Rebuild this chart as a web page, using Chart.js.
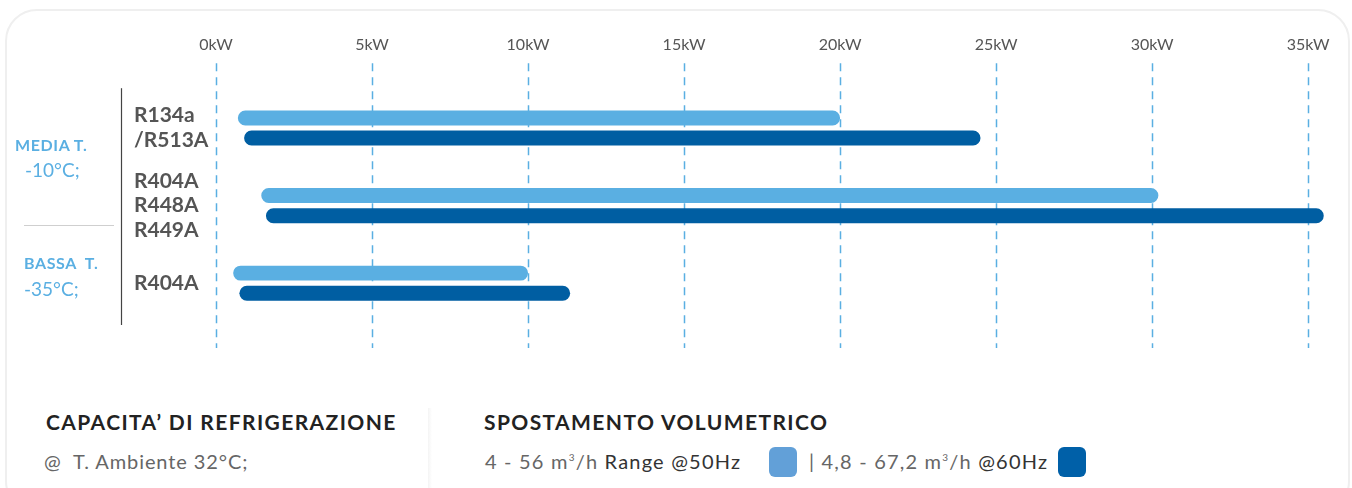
<!DOCTYPE html>
<html>
<head>
<meta charset="utf-8">
<script src="https://cdn.jsdelivr.net/npm/chart.js@4/dist/chart.umd.min.js"></script>
<style>
  html, body { margin: 0; padding: 0; background: #fff; }
  body { width: 1352px; height: 488px; position: relative; overflow: hidden; font-family: Lato, "Noto Sans", sans-serif; }
  .card { position: absolute; left: 5px; top: 9px; width: 1341px; height: 500px; border: 2px solid #efefef; border-radius: 32px; }
  #wrap { position: absolute; left: 0; top: 0; width: 1352px; height: 360px; }
  .grp { position: absolute; color: #5aafe2; white-space: nowrap; }
  .grp b { font-size: 16px; font-weight: 700; letter-spacing: 0.6px; }
  .grp span { font-size: 19px; }
  .sep { position: absolute; left: 24px; top: 225px; width: 90px; height: 1px; background: #cfcfcf; }
  .ttl { position: absolute; font-weight: 700; font-size: 21px; letter-spacing: 1.4px; color: #222; white-space: nowrap; }
  .sub { position: absolute; font-size: 20px; letter-spacing: 1.2px; color: #666; white-space: nowrap; }
  .sub em { font-style: normal; color: #333; }
  .sub sup { font-size: 10px; }
  .sq { position: absolute; top: 447px; width: 28px; height: 30px; border-radius: 6px; }
  .shadow { position: absolute; left: 428px; top: 408px; width: 4px; height: 80px; background: linear-gradient(to right, #f4f4f4, #fff); }
</style>
</head>
<body>
<div class="card"></div>
<div class="shadow"></div>
<div id="wrap"><canvas id="myChart"></canvas></div>

<div class="grp" style="left:15px; top:135px;"><b>MEDIA T.</b></div>
<div class="grp" style="left:25px; top:158px;"><span>-10°C;</span></div>
<div class="sep"></div>
<div class="grp" style="left:24px; top:253px;"><b>BASSA&nbsp; T.</b></div>
<div class="grp" style="left:24px; top:277px;"><span>-35°C;</span></div>

<div class="ttl" style="left:46px; top:409px;">CAPACITA’ DI REFRIGERAZIONE</div>
<div class="sub" style="left:44px; top:449px; letter-spacing:0.9px;">@&nbsp; T. Ambiente 32°C;</div>
<div class="ttl" style="left:484px; top:409px;">SPOSTAMENTO VOLUMETRICO</div>
<div class="sub" style="left:485px; top:449px;">4 - 56 m<sup>3</sup>/h <em>Range @50Hz</em></div>
<div class="sq" id="sq50" style="left:769px;"></div>
<div class="sub" style="left:809px; top:449px;">| 4,8 - 67,2 m<sup>3</sup>/h <em>@60Hz</em></div>
<div class="sq" id="sq60" style="left:1058px;"></div>

<script>
// refrigerant groups (y categories)
const categories = [['R134a', '/R513A'], ['R404A', 'R448A', 'R449A'], ['R404A']];
// capacity ranges in kW, [min, max]
const range50Hz = [[0.7, 20], [1.45, 30.2], [0.55, 10]];
const range60Hz = [[0.9, 24.5], [1.6, 35.5], [0.75, 11.35]];
const tickStep = 5;
const tickUnit = 'kW';

const light = '#5aafe2';
const dark = '#005ea2';
document.getElementById('sq50').style.background = '#62a0d8';
document.getElementById('sq60').style.background = '#0060a8';

// dashed grid lines that run past the plot area, under the bars
const dashGrid = {
  id: 'dashGrid',
  beforeDatasetsDraw(chart) {
    const ctx = chart.ctx, x = chart.scales.x, a = chart.chartArea;
    ctx.save();
    ctx.strokeStyle = light;
    ctx.lineWidth = 1.5;
    ctx.setLineDash([8, 6]);
    x.ticks.forEach(t => {
      const px = Math.round(x.getPixelForValue(t.value)) + 0.5;
      ctx.beginPath();
      ctx.moveTo(px, a.top - 26);
      ctx.lineTo(px, a.bottom + 26);
      ctx.stroke();
    });
    // vertical line left of the refrigerant labels
    ctx.setLineDash([]);
    ctx.strokeStyle = '#444';
    ctx.lineWidth = 1.2;
    ctx.beginPath();
    ctx.moveTo(121.5, a.top - 1);
    ctx.lineTo(121.5, a.bottom + 3);
    ctx.stroke();
    ctx.restore();
  }
};

// no extra room for label overhang, layout.padding decides the plot area
const noPad = s => { s.paddingTop = 0; s.paddingBottom = 0; s.paddingLeft = 0; s.paddingRight = 0; };

const data = {
  labels: categories,
  datasets: [{
    label: '@50Hz',
    data: range50Hz,
    backgroundColor: light,
  }, {
    label: '@60Hz',
    data: range60Hz,
    backgroundColor: dark,
  }]
};

const config = {
  type: 'bar',
  data: data,
  options: {
    indexAxis: 'y',
    responsive: false,
    animation: false,
    layout: { padding: { left: 134, right: 22, top: 0, bottom: 38 } },
    datasets: {
      bar: {
        categoryPercentage: 0.52,
        barPercentage: 0.74,
        borderRadius: 8,
        borderSkipped: false,
      }
    },
    plugins: { legend: { display: false }, tooltip: { enabled: false } },
    scales: {
      x: {
        position: 'top',
        min: 0,
        max: 35.7,
        border: { display: false },
        grid: { display: false, drawTicks: false },
        afterFit: noPad,
        ticks: {
          stepSize: tickStep,
          includeBounds: false,
          maxRotation: 0,
          padding: 35,
          color: '#555',
          font: { family: 'Lato', size: 16 },
          callback: v => v + tickUnit
        }
      },
      y: {
        border: { display: false },
        grid: { display: false, drawTicks: false },
        afterFit: s => { s.width = 82; noPad(s); },
        ticks: {
          autoSkip: false,
          crossAlign: 'far',
          color: '#555',
          font: { family: 'Lato', size: 21, weight: 'bold', lineHeight: 1.17 }
        }
      }
    }
  },
  plugins: [dashGrid]
};

const cv = document.getElementById('myChart');
cv.width = 1352; cv.height = 360;
new Chart(cv, config);
</script>
</body>
</html>
